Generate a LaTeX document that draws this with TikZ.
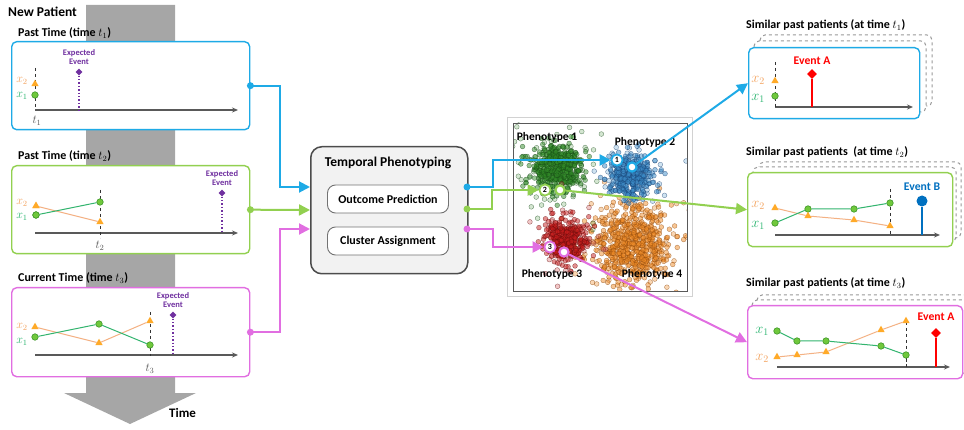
\documentclass[tikz,border=0pt]{standalone}
\usepackage{fontspec}
\setmainfont{Carlito}
\usetikzlibrary{arrows.meta,shapes.geometric,calc}
\definecolor{blueC}{RGB}{30,170,230}
\definecolor{greenC}{RGB}{146,208,80}
\definecolor{pinkC}{RGB}{225,110,225}
\definecolor{bigGray}{RGB}{166,166,166}
\definecolor{axGray}{RGB}{89,89,89}
\definecolor{mOrange}{RGB}{255,170,40}
\definecolor{lOrange}{RGB}{244,177,131}
\definecolor{mGreen}{RGB}{112,200,60}
\definecolor{mGreenD}{RGB}{60,150,40}
\definecolor{lGreen}{RGB}{50,180,110}
\definecolor{xOne}{RGB}{40,180,110}
\definecolor{xTwo}{RGB}{244,164,96}
\definecolor{purp}{RGB}{112,48,160}
\definecolor{evRed}{RGB}{255,0,0}
\definecolor{evBlue}{RGB}{0,112,192}
\definecolor{sGreen}{RGB}{50,140,40}
\definecolor{sGreenD}{RGB}{20,70,20}
\definecolor{sBlue}{RGB}{60,140,200}
\definecolor{sBlueD}{RGB}{20,60,110}
\definecolor{sRed}{RGB}{200,30,30}
\definecolor{sRedD}{RGB}{100,10,10}
\definecolor{sOrange}{RGB}{240,140,40}
\definecolor{sOrangeD}{RGB}{140,70,10}
\newcommand{\fs}[1]{\fontsize{#1}{#1}\selectfont}
\begin{document}
\begin{tikzpicture}[x=1pt,y=-1pt,font=\bfseries,
  panel/.style={draw, rounded corners=5pt, line width=1.4pt, fill=white, inner sep=0pt, anchor=north west},
  layer/.style={draw=gray!80, dashed, line width=1pt, rounded corners=5pt, fill=white},
  axis/.style={draw=axGray, line width=1.3pt, -{Stealth[length=6pt,width=5pt]}},
  vdashed/.style={draw=black!80, line width=1pt, dash pattern=on 3.5pt off 2.5pt},
  mdot/.style={circle, fill=mGreen, draw=mGreenD, line width=0.6pt, inner sep=0pt, minimum size=6.5pt},
  mtri/.style={regular polygon, regular polygon sides=3, fill=mOrange, inner sep=0pt, minimum size=8.5pt},
  gline/.style={draw=lGreen, line width=1pt},
  oline/.style={draw=lOrange, line width=1pt},
  xonel/.style={text=xOne, font=\fs{11.5}},
  xtwol/.style={text=xTwo, font=\fs{11.5}},
  xonebig/.style={text=xOne, font=\fs{14}},
  xtwobig/.style={text=xTwo, font=\fs{14}},
  tlab/.style={text=axGray, font=\fs{11.5}},
  pdiam/.style={diamond, fill=purp, inner sep=0pt, minimum size=7pt},
  rdiam/.style={diamond, fill=evRed, inner sep=0pt, minimum size=10pt},
  evline/.style={draw=purp, dotted, line width=1.4pt},
  evtext/.style={text=purp, align=center, font=\bfseries\fs{8.5}, inner sep=0pt},
  title/.style={anchor=west, inner sep=0pt, font=\bfseries\fs{12}},
  conn/.style={line width=2pt},
  bigarrow/.style={-{Triangle[length=11pt,width=11pt]}},
  cdot/.style={circle, inner sep=0pt, minimum size=7pt},
  numc/.style={circle, fill=white, line width=1.6pt, inner sep=0pt, minimum size=11pt, font=\bfseries\fs{8}},
  hollow/.style={circle, fill=white, line width=2pt, inner sep=0pt, minimum size=9pt},
  ibox/.style={draw=gray!90!black, line width=0.9pt, fill=white, rounded corners=8pt, minimum width=121pt, minimum height=28pt, font=\bfseries\fs{12}},
  phl/.style={font=\bfseries\fs{11.5}, inner sep=0pt},
  evlab/.style={font=\bfseries\fs{11.7}},
  spt/.style={line width=0.3pt, fill opacity=0.5, draw opacity=0.7}
]
\useasboundingbox (0,0) rectangle (964,430);

% ---------- big gray time arrow
\fill[bigGray] (86,5) -- (175,5) -- (175,393) -- (196,393) -- (130,424) -- (64,393) -- (86,393) -- cycle;
\node[anchor=west, inner sep=0pt, font=\bfseries\fs{13}] (timelab) at (169,413) {Time};
\node[anchor=west, inner sep=0pt, font=\bfseries\fs{13.5}] (newp) at (8,12) {New Patient};

% ---------- left panel 1
\node[title] (tt1) at (18,33) {Past Time (time $t_1$)};
\node[panel, draw=blueC, minimum width=238pt, minimum height=88pt] (box1) at (11,41) {};
\coordinate (a1s) at (35,110); \coordinate (a1e) at (238,110);
\draw[axis] (a1s) -- (a1e);
\draw[vdashed] (35,68) -- (35,110);
\node[mtri] (p1b) at (35,84) {};
\node[mdot] (p1a) at (35,95) {};
\node[xtwol] (l1b) at (22,81) {$x_2$};
\node[xonel] (l1a) at (22,96) {$x_1$};
\node[tlab] (l1t) at (37,121) {$t_1$};
\node[pdiam] (e1) at (79,72) {};
\coordinate (e1b) at (79,110);
\draw[evline] (e1) -- (e1b);
\node[evtext] (e1t) at (79,57) {Expected\\[1pt]Event};

% ---------- left panel 2
\node[title] (tt2) at (18,156) {Past Time (time $t_2$)};
\node[panel, draw=greenC, minimum width=238pt, minimum height=88pt] (box2) at (11,165) {};
\coordinate (a2s) at (35,233); \coordinate (a2e) at (238,233);
\draw[axis] (a2s) -- (a2e);
\draw[vdashed] (100,190) -- (100,238);
\node[mtri] (q1b) at (36,206) {};
\node[mdot] (q1a) at (36,215) {};
\node[mdot] (q2a) at (100,202) {};
\node[mtri] (q2b) at (100,222) {};
\draw[oline] (q1b) -- (q2b);
\draw[gline] (q1a) -- (q2a);
\node[mtri] at (q1b) {};
\node[mdot] at (q1a) {};
\node[xtwol] (l2b) at (22,203) {$x_2$};
\node[xonel] (l2a) at (22,217) {$x_1$};
\node[tlab] (l2t) at (100,246) {$t_2$};
\node[pdiam] (e2) at (222,193) {};
\coordinate (e2b) at (222,233);
\draw[evline] (e2) -- (e2b);
\node[evtext] (e2t) at (222,178) {Expected\\[1pt]Event};

% ---------- left panel 3
\node[title] (tt3) at (18,278) {Current Time (time $t_3$)};
\node[panel, draw=pinkC, minimum width=238pt, minimum height=89pt] (box3) at (11,287) {};
\coordinate (a3s) at (35,355); \coordinate (a3e) at (238,355);
\draw[axis] (a3s) -- (a3e);
\draw[vdashed] (150,312) -- (150,356);
\node[mtri] (s1b) at (35,327) {};
\node[mdot] (s1a) at (35,337) {};
\node[mdot] (s2a) at (99,324) {};
\node[mtri] (s2b) at (99,343) {};
\node[mtri] (s3b) at (150,321) {};
\node[mdot] (s3a) at (150,345) {};
\draw[oline] (s1b) -- (s2b) -- (s3b);
\draw[gline] (s1a) -- (s2a) -- (s3a);
\node[xtwol] (l3b) at (22,327) {$x_2$};
\node[xonel] (l3a) at (22,342) {$x_1$};
\node[tlab] (l3t) at (150,369) {$t_3$};
\node[pdiam] (e3) at (173,315) {};
\coordinate (e3b) at (173,355);
\draw[evline] (e3) -- (e3b);
\node[evtext] (e3t) at (173,300) {Expected\\[1pt]Event};

% ---------- central box
\node[draw=gray!60!black, line width=1.5pt, fill=gray!10, rounded corners=11pt, anchor=north west, minimum width=157pt, minimum height=127pt, inner sep=0pt] (cbox) at (310,146) {};
\node[font=\bfseries\fs{13.5}] (ctitle) at (388,163) {Temporal Phenotyping};
\node[ibox] (op) at (388,199) {Outcome Prediction};
\node[ibox] (ca) at (388,241) {Cluster Assignment};

% input connectors
\coordinate (inB) at (310,187); \coordinate (inG) at (310,210); \coordinate (inP) at (310,229);
\coordinate (elB) at (280,187); \coordinate (elP) at (280,229);
\draw[conn, blueC, bigarrow] (box1.east) -| (elB) -- (inB);
\draw[conn, greenC, bigarrow] (box2.east) -- (inG);
\draw[conn, pinkC, bigarrow] (box3.east) -| (elP) -- (inP);
\node[cdot, fill=blueC] (dB) at (box1.east) {};
\node[cdot, fill=greenC] (dG) at (box2.east) {};
\node[cdot, fill=pinkC] (dP) at (box3.east) {};

% ---------- scatter plot
\draw[gray!35, line width=0.8pt] (507,117) rectangle (692,296);
\fill[white] (513,123) rectangle (687,291);
\pgfmathsetseed{7}
\begin{scope}
\clip (513,123) rectangle (687,291);
% orange (phenotype 4)
\foreach \i in {1,...,90}{
  \pgfmathsetmacro\rr{30*sqrt(-2*ln(0.003+0.997*rnd))}
  \pgfmathsetmacro\aa{360*rnd}
  \filldraw[spt, fill=sOrange, draw=sOrangeD, fill opacity=0.35] (632,247) ++(\aa:\rr) circle[radius=2.4pt];
}
\foreach \i in {1,...,580}{
  \pgfmathsetmacro\rr{19*sqrt(-2*ln(0.003+0.997*rnd))}
  \pgfmathsetmacro\aa{360*rnd}
  \filldraw[spt, fill=sOrange, draw=sOrangeD] (632,245) ++(\aa:\rr) circle[radius=2.4pt];
}
% green (phenotype 1)
\foreach \i in {1,...,70}{
  \pgfmathsetmacro\rr{24*sqrt(-2*ln(0.003+0.997*rnd))}
  \pgfmathsetmacro\aa{360*rnd}
  \filldraw[spt, fill=sGreen!60, draw=sGreenD, fill opacity=0.35] (557,172) ++(\aa:\rr) circle[radius=2.4pt];
}
\foreach \i in {1,...,480}{
  \pgfmathsetmacro\rr{12.5*sqrt(-2*ln(0.003+0.997*rnd))}
  \pgfmathsetmacro\aa{360*rnd}
  \filldraw[spt, fill=sGreen, draw=sGreenD] (557,168) ++(\aa:\rr) circle[radius=2.4pt];
}
% blue (phenotype 2)
\foreach \i in {1,...,35}{
  \pgfmathsetmacro\rr{18*sqrt(-2*ln(0.003+0.997*rnd))}
  \pgfmathsetmacro\aa{360*rnd}
  \filldraw[spt, fill=sBlue!70, draw=sBlueD, fill opacity=0.35] (631,175) ++(\aa:\rr) circle[radius=2.4pt];
}
\foreach \i in {1,...,360}{
  \pgfmathsetmacro\rr{10.5*sqrt(-2*ln(0.003+0.997*rnd))}
  \pgfmathsetmacro\aa{360*rnd}
  \filldraw[spt, fill=sBlue, draw=sBlueD] (631,175) ++(\aa:\rr) circle[radius=2.4pt];
}
% red (phenotype 3)
\foreach \i in {1,...,40}{
  \pgfmathsetmacro\rr{18*sqrt(-2*ln(0.003+0.997*rnd))}
  \pgfmathsetmacro\aa{360*rnd}
  \filldraw[spt, fill=sRed!70, draw=sRedD, fill opacity=0.35] (566,240) ++(\aa:\rr) circle[radius=2.4pt];
}
\foreach \i in {1,...,380}{
  \pgfmathsetmacro\rr{10.5*sqrt(-2*ln(0.003+0.997*rnd))}
  \pgfmathsetmacro\aa{360*rnd}
  \filldraw[spt, fill=sRed, draw=sRedD] (566,240) ++(\aa:\rr) circle[radius=2.4pt];
}
\end{scope}
\draw[gray!70!black, line width=0.8pt] (513,123) rectangle (687,291);
\node[phl] (ph1) at (547,137) {Phenotype 1};
\node[phl] (ph2) at (645,142) {Phenotype 2};
\node[phl] (ph3) at (552,274) {Phenotype 3};
\node[phl] (ph4) at (652,274) {Phenotype 4};

% ---------- right panels
\draw[layer] (760,35) rectangle (932,106);
\draw[layer] (754,41) rectangle (926,112);
\node[title] (rt1) at (746,25) {Similar past patients (at time $t_1$)};
\node[panel, draw=blueC, minimum width=171pt, minimum height=71pt] (r1) at (748,47) {};
\coordinate (b1s) at (775,107); \coordinate (b1e) at (913,107);
\draw[axis] (b1s) -- (b1e);
\draw[vdashed] (775,62) -- (775,107);
\node[mtri] (u1b) at (775,81) {};
\node[mdot] (u1a) at (775,96) {};
\node[xtwobig] (m1b) at (758,80) {$x_2$};
\node[xonebig] (m1a) at (758,98) {$x_1$};
\node[rdiam] (ev1) at (812,74) {};
\coordinate (ev1b) at (812,107);
\draw[evRed, line width=2pt] (ev1b) -- (ev1);
\node[evlab, text=evRed] (ev1t) at (812,61) {Event A};

\draw[layer] (759,162) rectangle (961,238);
\draw[layer] (753,167) rectangle (956,242);
\node[title] (rt2) at (746,152) {Similar past patients~~(at time $t_2$)};
\node[panel, draw=greenC, minimum width=205pt, minimum height=74pt] (r2) at (747,172) {};
\coordinate (b2s) at (775,235); \coordinate (b2e) at (940,235);
\draw[axis] (b2s) -- (b2e);
\draw[vdashed] (890,189) -- (890,235);
\node[mdot] (v1a) at (775,223) {};
\node[mdot] (v2a) at (808,209) {};
\node[mdot] (v3a) at (854,209) {};
\node[mdot] (v4a) at (890,203) {};
\node[mtri] (v1b) at (775,208) {};
\node[mtri] (v2b) at (808,216) {};
\node[mtri] (v3b) at (854,220) {};
\node[mtri] (v4b) at (890,226) {};
\draw[oline] (v1b) -- (v2b) -- (v3b) -- (v4b);
\draw[gline] (v1a) -- (v2a) -- (v3a) -- (v4a);
\node[xtwobig] (m2b) at (758,205) {$x_2$};
\node[xonebig] (m2a) at (758,225) {$x_1$};
\node[circle, fill=evBlue, inner sep=0pt, minimum size=11pt] (ev2) at (922,201) {};
\coordinate (ev2b) at (922,235);
\draw[evBlue, line width=2pt] (ev2b) -- (ev2);
\node[evlab, text=evBlue] (ev2t) at (922,187) {Event B};

\draw[layer] (757,295) rectangle (975,368);
\draw[layer] (752,300) rectangle (970,373);
\node[title] (rt3) at (746,283) {Similar past patients (at time $t_3$)};
\node[panel, draw=pinkC, minimum width=215pt, minimum height=73pt] (r3) at (747,305) {};
\coordinate (b3s) at (777,367); \coordinate (b3e) at (950,367);
\draw[axis] (b3s) -- (b3e);
\draw[vdashed] (906,322) -- (906,367);
\node[mdot] (w1a) at (777,331) {};
\node[mdot] (w2a) at (797,341) {};
\node[mdot] (w3a) at (826,341) {};
\node[mdot] (w4a) at (881,346) {};
\node[mdot] (w5a) at (906,355) {};
\node[mtri] (w1b) at (777,357) {};
\node[mtri] (w2b) at (797,355) {};
\node[mtri] (w3b) at (826,352) {};
\node[mtri] (w4b) at (881,330) {};
\node[mtri] (w5b) at (906,321) {};
\draw[oline] (w1b) -- (w2b) -- (w3b) -- (w4b) -- (w5b);
\draw[gline] (w1a) -- (w2a) -- (w3a) -- (w4a) -- (w5a);
\node[xonebig] (m3a) at (762,331) {$x_1$};
\node[xtwobig] (m3b) at (762,358) {$x_2$};
\node[rdiam] (ev3) at (936,333) {};
\coordinate (ev3b) at (936,367);
\draw[evRed, line width=2pt] (ev3b) -- (ev3);
\node[evlab, text=evRed] (ev3t) at (936,317) {Event A};

% ---------- output connectors
\node[numc, draw=blueC] (c1) at (617,160) {1};
\node[numc, draw=greenC] (c2) at (545,190) {2};
\node[numc, draw=pinkC] (c3) at (550,247) {3};
\node[hollow, draw=blueC] (h1) at (632,167) {};
\node[hollow, draw=greenC] (h2) at (560,190) {};
\node[hollow, draw=pinkC] (h3) at (564,252) {};
\coordinate (oB) at (467,187); \coordinate (oG) at (467,209); \coordinate (oP) at (467,229);
\coordinate (qB) at (493,160); \coordinate (qG) at (492,190); \coordinate (qP) at (493,247);
\draw[conn, blueC, bigarrow] (oB) -| (qB) -- (c1);
\draw[conn, greenC, bigarrow] (oG) -| (qG) -- (c2);
\draw[conn, pinkC, bigarrow] (oP) -| (qP) -- (c3);
\draw[conn, blueC, bigarrow] (h1) -- (r1.west);
\draw[conn, greenC, bigarrow] (h2) -- (r2.west);
\draw[conn, pinkC, bigarrow] (h3) -- (r3.west);
\node[cdot, fill=blueC] (doB) at (oB) {};
\node[cdot, fill=greenC] (doG) at (oG) {};
\node[cdot, fill=pinkC] (doP) at (oP) {};
\node[numc, draw=blueC] at (c1) {1};
\node[numc, draw=greenC] at (c2) {2};
\node[numc, draw=pinkC] at (c3) {3};
\node[hollow, draw=blueC] at (h1) {};
\node[hollow, draw=greenC] at (h2) {};
\node[hollow, draw=pinkC] at (h3) {};
\end{tikzpicture}
\end{document}
